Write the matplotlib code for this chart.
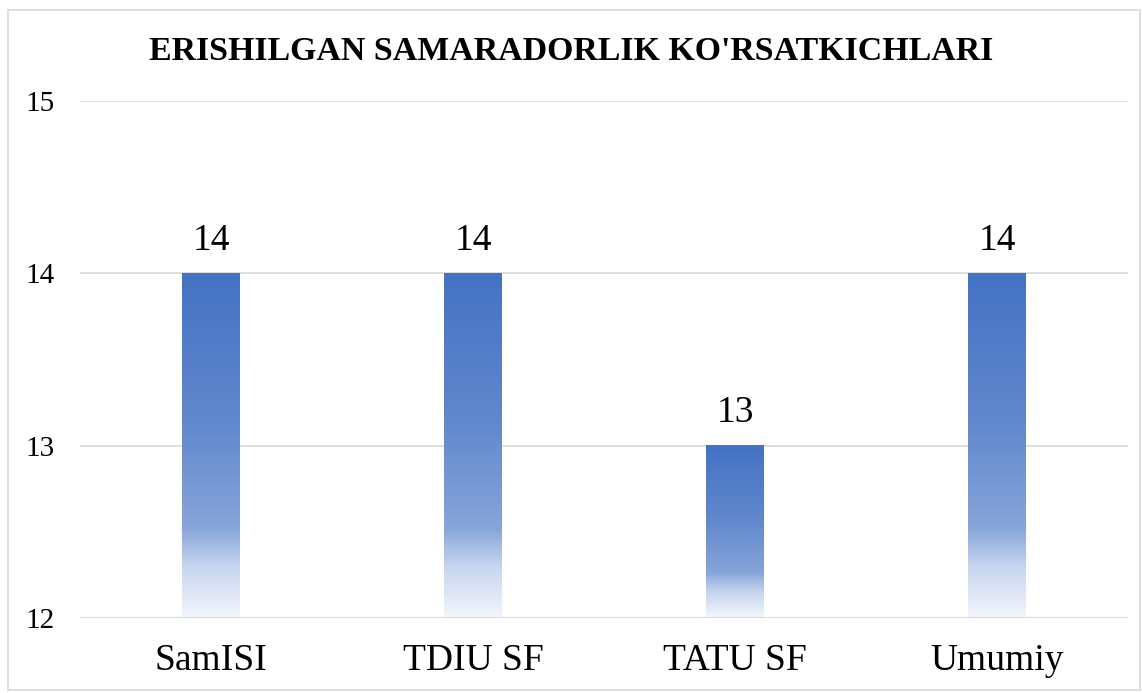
import matplotlib
matplotlib.use("Agg")
import matplotlib.pyplot as plt
import numpy as np
from matplotlib.colors import LinearSegmentedColormap
from matplotlib.patches import Rectangle

categories = ["SamISI", "TDIU SF", "TATU SF", "Umumiy"]
values = [14, 14, 13, 14]
yticks = [12, 13, 14, 15]
title = "ERISHILGAN SAMARADORLIK KO'RSATKICHLARI"

plt.rcParams['font.family'] = ['Liberation Serif', 'DejaVu Serif']

W, H = 1142, 693
fig = plt.figure(figsize=(W / 100, H / 100), dpi=100)
ax = fig.add_axes([80 / W, 1 - 618 / H, (1128 - 80) / W, (618 - 101) / H])

cmap = LinearSegmentedColormap.from_list(
    "grad",
    [(0.0, "#4472C4"), (0.45, "#6389CE"), (0.74, "#87A5D9"),
     (0.85, "#C6D4EE"), (1.0, "#F3F6FC")])

x = np.arange(len(categories))
width = 0.22
base = 12
grad = np.linspace(0, 1, 256).reshape(-1, 1)
for xi, v in zip(x, values):
    x0, x1 = xi - width / 2, xi + width / 2
    ax.imshow(grad, cmap=cmap, aspect='auto', extent=[x0, x1, base, v],
              origin='upper', interpolation='bilinear', zorder=2)
    ax.annotate(str(v), (xi, v), xytext=(0, 11), textcoords='offset points',
                ha='center', va='bottom', fontsize=27, color='#000000')

ax.set_xlim(-0.5, len(categories) - 0.5)
ax.set_ylim(12, 15)
ax.set_yticks(yticks)
ax.set_yticklabels([str(t) for t in yticks], fontsize=21)
ax.set_xticks(x)
ax.set_xticklabels(categories, fontsize=27)
ax.tick_params(axis='both', length=0)
ax.tick_params(axis='y', pad=18)
ax.tick_params(axis='x', pad=18)
ax.grid(axis='y', color='#D9D9D9', linewidth=1.2, zorder=0)
ax.set_axisbelow(True)
for s in ax.spines.values():
    s.set_visible(False)
ax.axhline(12, color='#D9D9D9', linewidth=1.5, zorder=3)

fig.text(0.5, 1 - 51 / H, title, ha='center', va='center', fontsize=24.4,
         fontweight='bold', color='#000000')

fig.patches.append(Rectangle((8 / W, 1 - 690 / H), (1140 - 8) / W, (690 - 10) / H,
                             transform=fig.transFigure, fill=False,
                             edgecolor='#D9D9D9', linewidth=1.2))

fig.savefig("out.png", dpi=100)
